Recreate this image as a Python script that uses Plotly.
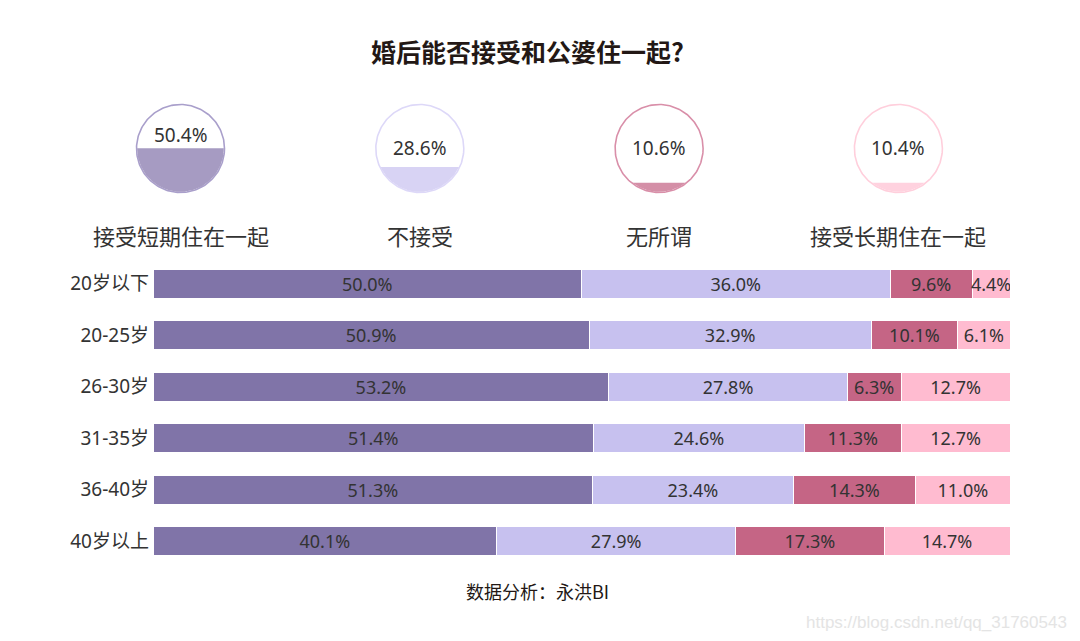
import numpy as np
import plotly.graph_objects as go

# ---------------- data ----------------
age_groups = ["20岁以下", "20-25岁", "26-30岁", "31-35岁", "36-40岁", "40岁以上"]
series_names = ["接受短期住在一起", "不接受", "无所谓", "接受长期住在一起"]
short_term = [50.0, 50.9, 53.2, 51.4, 51.3, 40.1]
not_accept = [36.0, 32.9, 27.8, 24.6, 23.4, 27.9]
indifferent = [9.6, 10.1, 6.3, 11.3, 14.3, 17.3]
long_term = [4.4, 6.1, 12.7, 12.7, 11.0, 14.7]
overall = [50.4, 28.6, 10.6, 10.4]

title_text = "婚后能否接受和公婆住一起?"
source_text = "数据分析：永洪BI"
watermark_text = "https://blog.csdn.net/qq_31760543"

# ---------------- styles ----------------
bar_colors = ["#8074A8", "#C7C1EF", "#C56585", "#FFBBD0"]
circle_fill = ["#A69BC2", "#D8D3F4", "#D48FA7", "#FFD2DF"]
circle_line = ["#A99FCB", "#DDD8F8", "#D98FA9", "#FFCFDC"]
OFF = 8                      # page body margin in the browser
W, H = 1080 - OFF, 641 - OFF
FONT = "Noto Sans, Noto Sans CJK SC, sans-serif"
CJK = "Noto Sans CJK SC, sans-serif"


def px(x):   # page x -> paper
    return (x - OFF) / W


def py(y):   # page y -> paper
    return 1 - (y - OFF) / H


fig = go.Figure()

# ---------------- stacked bars ----------------
for name, vals, col in zip(series_names,
                           [short_term, not_accept, indifferent, long_term],
                           bar_colors):
    fig.add_trace(go.Bar(
        y=age_groups, x=vals, orientation="h", name=name,
        marker=dict(color=col, line=dict(color="white", width=1)),
        text=[f"{v:.1f}%" for v in vals],
        textposition="inside", insidetextanchor="middle",
        constraintext="none",
        textfont=dict(family=FONT, size=18, color="#333333"),
        hoverinfo="skip", showlegend=False,
        xaxis="x", yaxis="y",
    ))

# ---------------- circles (liquid-fill style) ----------------
R_PX = 44.0          # circle radius in pixels
CX0 = 180.5          # first circle centre (page px)
STEP = 239.3         # spacing between circles (px)
CY = 148.5           # circle centre (page px from top)
PAD = 10.0

t = np.linspace(0, 2 * np.pi, 200)
for i, v in enumerate(overall):
    cx = i * STEP / R_PX
    # outline
    fig.add_trace(go.Scatter(
        x=cx + np.cos(t), y=np.sin(t), mode="lines",
        line=dict(color=circle_line[i], width=1.6),
        hoverinfo="skip", showlegend=False, xaxis="x2", yaxis="y2"))
    # filled segment up to level v
    h = -1 + 2 * v / 100.0
    th0 = np.arcsin(h)
    th = np.linspace(th0, -np.pi - th0, 150)
    fig.add_trace(go.Scatter(
        x=cx + 0.985 * np.cos(th), y=0.985 * np.sin(th),
        mode="lines", fill="toself", fillcolor=circle_fill[i],
        line=dict(width=0, color=circle_fill[i]),
        hoverinfo="skip", showlegend=False, xaxis="x2", yaxis="y2"))
    # percentage text
    if v > 40:
        fig.add_annotation(x=cx, y=h, xref="x2", yref="y2", text=f"{v:.1f}%",
                           showarrow=False, xanchor="center", yanchor="bottom",
                           yshift=-2,
                           font=dict(family=FONT, size=19, color="#333333"))
    else:
        fig.add_annotation(x=cx, y=0, xref="x2", yref="y2", text=f"{v:.1f}%",
                           showarrow=False, xanchor="center", yanchor="middle",
                           font=dict(family=FONT, size=19, color="#333333"))
    # category label (paper coords so it is not hidden off-range)
    fig.add_annotation(x=px(CX0 + i * STEP), y=py(235), xref="paper", yref="paper",
                       text=series_names[i], showarrow=False,
                       xanchor="center", yanchor="middle",
                       font=dict(family=CJK, size=22, color="#333333"))

# ---------------- titles ----------------
fig.add_annotation(x=px(527), y=py(51), xref="paper", yref="paper",
                   text=f"<b>{title_text}</b>", showarrow=False,
                   xanchor="center", yanchor="middle",
                   font=dict(family=CJK, size=25, color="#231815"))
fig.add_annotation(x=px(537.5), y=py(591), xref="paper", yref="paper",
                   text=source_text, showarrow=False,
                   xanchor="center", yanchor="middle",
                   font=dict(family=CJK, size=18, color="#231815"))
fig.add_annotation(x=px(1069), y=py(622), xref="paper", yref="paper",
                   text=watermark_text, showarrow=False,
                   xanchor="right", yanchor="middle",
                   font=dict(family="Liberation Sans Narrow, Liberation Sans, sans-serif",
                             size=17, color="#E4E4E4"))

# ---------------- layout ----------------
bar_top, bar_bot = 258.0, 567.0
fig.update_layout(
    width=W, height=H,
    margin=dict(l=0, r=0, t=0, b=0),
    paper_bgcolor="white", plot_bgcolor="rgba(0,0,0,0)",
    barmode="stack", bargap=0.437,
    xaxis=dict(domain=[px(153), px(1010)], range=[0, 100], visible=False,
               fixedrange=True),
    yaxis=dict(domain=[py(bar_bot), py(bar_top)], autorange="reversed",
               showgrid=False, zeroline=False, showline=False, ticks="",
               ticklabelstandoff=3,
               tickfont=dict(family=FONT, size=19, color="#333333")),
    xaxis2=dict(domain=[0, 1], range=[-(CX0 - OFF) / R_PX, (W - (CX0 - OFF)) / R_PX],
                visible=False, anchor="y2"),
    yaxis2=dict(domain=[py(CY + R_PX + PAD), py(CY - R_PX - PAD)],
                range=[-1 - PAD / R_PX, 1 + PAD / R_PX], visible=False,
                anchor="x2"),
)

fig.write_html("out.html")
